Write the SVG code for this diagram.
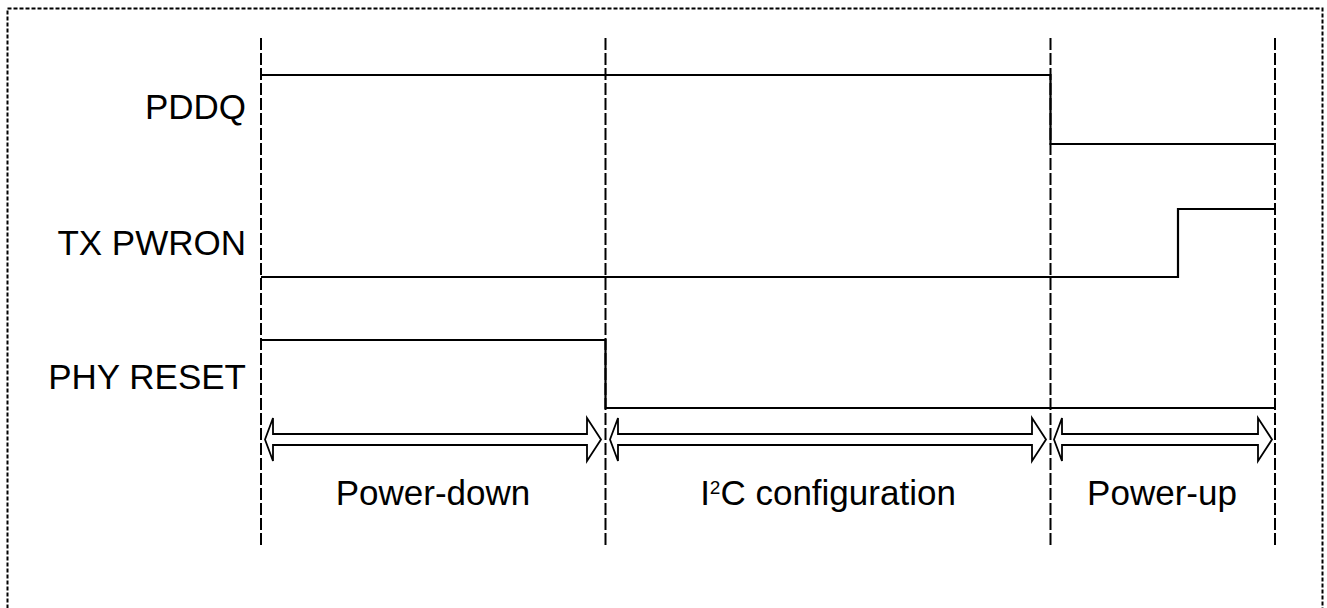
<svg xmlns="http://www.w3.org/2000/svg" width="1327" height="608" viewBox="0 0 1327 608">
<style>
  .frame { fill: none; stroke: #000; stroke-width: 2; stroke-dasharray: 4 2; }
  .guide { fill: none; stroke: #000; stroke-width: 2; stroke-dasharray: 12 3; }
  .sig { fill: none; stroke: #000; stroke-width: 2.2; }
  .arr { fill: #fff; stroke: #000; stroke-width: 1.8; stroke-linejoin: miter; }
  .lbl { font-family: "Liberation Sans", Arial, Helvetica, sans-serif; font-size: 35px; fill: #000; }
</style>
<rect width="1327" height="608" fill="#fff"/>
<rect class="frame" x="7.5" y="8.5" width="1315" height="620"/>

<g id="guides">
  <line class="guide" x1="261" y1="38" x2="261" y2="548"/>
  <line class="guide" x1="605.5" y1="38" x2="605.5" y2="548"/>
  <line class="guide" x1="1050.5" y1="38" x2="1050.5" y2="548"/>
  <line class="guide" x1="1275" y1="38" x2="1275" y2="548"/>
</g>

<g id="signal-labels">
  <text class="lbl" x="246" y="119" text-anchor="end">PDDQ</text>
  <text class="lbl" x="246" y="255" text-anchor="end">TX PWRON</text>
  <text class="lbl" x="246" y="389" text-anchor="end">PHY RESET</text>
</g>

<g id="connectors">
  <polyline id="pddq" class="sig" points="261,75 1050.5,75 1050.5,144 1275,144"/>
  <polyline id="txpwron" class="sig" points="261,277 1178,277 1178,209 1275,209"/>
  <polyline id="phyreset" class="sig" points="261,340 605.5,340 605.5,408 1275,408"/>
</g>

<g id="phase-arrows">
  <polygon class="arr" points="265,439.5 273,418 273,434 587,434 587,418 601,439.5 587,461 587,445 273,445 273,461"/>
  <polygon class="arr" points="610,439.5 618,418 618,434 1032,434 1032,418 1046,439.5 1032,461 1032,445 618,445 618,461"/>
  <polygon class="arr" points="1054,439.5 1062,418 1062,434 1258,434 1258,418 1272,439.5 1258,461 1258,445 1062,445 1062,461"/>
</g>

<g id="phase-labels">
  <text class="lbl" x="433" y="505" text-anchor="middle">Power-down</text>
  <text class="lbl" x="828" y="505" text-anchor="middle">I<tspan font-size="19" dy="-11">2</tspan><tspan dy="11">C configuration</tspan></text>
  <text class="lbl" x="1162" y="505" text-anchor="middle">Power-up</text>
</g>
</svg>
